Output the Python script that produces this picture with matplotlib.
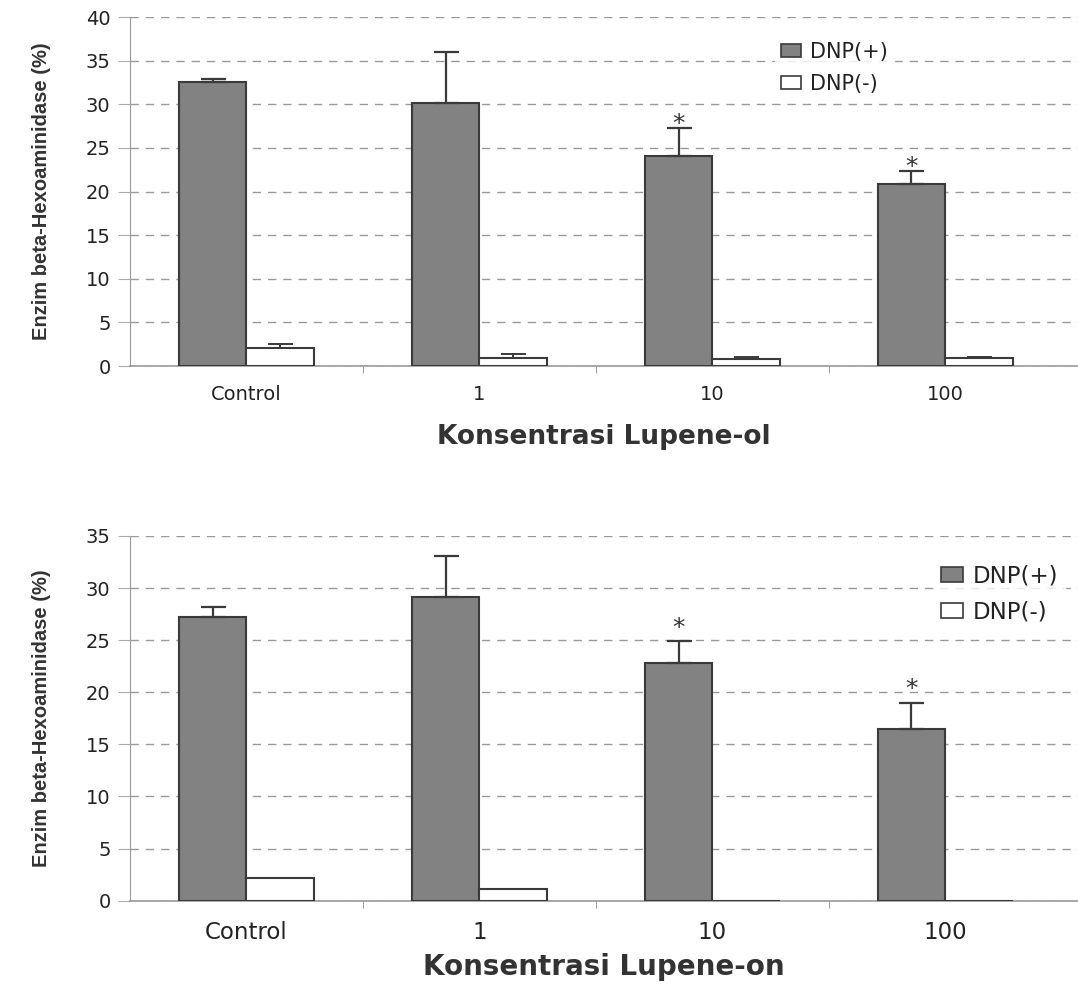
import numpy as np
import matplotlib
matplotlib.use('Agg')
import matplotlib.pyplot as plt
from matplotlib.patches import Patch

plt.rcParams['font.family'] = ['DejaVu Sans']

categories = ['Control', '1', '10', '100']

# Lupene-ol
ol_pos = [32.6, 30.1, 24.1, 20.85]
ol_pos_err = [0.3, 5.9, 3.2, 1.45]
ol_neg = [2.1, 0.88, 0.8, 0.88]
ol_neg_err = [0.4, 0.45, 0.2, 0.2]
ol_star = [False, False, True, True]

# Lupene-on
on_pos = [27.2, 29.1, 22.8, 16.5]
on_pos_err = [1.0, 4.0, 2.1, 2.5]
on_neg = [2.2, 1.1, 0.0, 0.0]
on_neg_err = [0.0, 0.0, 0.0, 0.0]
on_star = [False, False, True, True]

fig = plt.figure(figsize=(10.78, 9.84), dpi=100)

GREY = '#828282'
EDGE = '#3a3a3a'
TXT = '#222222'


def panel(ax, pos, pos_err, neg, neg_err, star, ymax, xlabel, opts):
    x = np.arange(len(categories))
    w = 0.29
    ax.bar(x - w/2, pos, w, color=GREY, edgecolor=EDGE, linewidth=1.5, zorder=3)
    ax.bar(x + w/2, neg, w, color='white', edgecolor=EDGE, linewidth=1.5, zorder=3)
    ax.errorbar(x - w/2, pos, yerr=[np.zeros(len(pos)), pos_err], fmt='none',
                ecolor=EDGE, elinewidth=1.6, capsize=9, capthick=1.6, zorder=4)
    for i in range(len(neg)):
        if neg_err[i] > 0:
            ax.errorbar(x[i] + w/2, neg[i], yerr=[[0], [neg_err[i]]], fmt='none',
                        ecolor=EDGE, elinewidth=1.4, capsize=9, capthick=1.4, zorder=4)
    for i in range(len(pos)):
        if star[i]:
            ax.annotate('*', (x[i] - w/2, pos[i] + pos_err[i]),
                        xytext=(0, opts['star_off']), textcoords='offset points',
                        ha='center', va='baseline', fontsize=18, color='#333333')

    ax.set_xlim(-0.5, 3.57)
    ax.set_ylim(0, ymax)
    ax.set_yticks(np.arange(0, ymax + 1, 5))
    ax.set_xticks(x)
    ax.set_xticklabels(categories, fontsize=opts['xtick'], color=TXT)
    ax.set_xticks([0.5, 1.5, 2.5], minor=True)
    ax.tick_params(axis='x', which='major', length=0, pad=opts['xpad'])
    ax.tick_params(axis='x', which='minor', length=5, color='#888888', direction='out')
    ax.tick_params(axis='y', length=9, color='#aaaaaa', labelsize=14,
                   labelcolor=TXT, pad=5)
    ax.yaxis.grid(True, linestyle=(0, (6, 5)), color='#999999', linewidth=1, zorder=0)
    ax.set_axisbelow(True)
    for s in ['top', 'right']:
        ax.spines[s].set_visible(False)
    ax.spines['left'].set_color('#999999')
    ax.spines['bottom'].set_color('#999999')
    ax.spines['bottom'].set_linewidth(1.2)
    ax.set_ylabel('Enzim beta-Hexoaminidase (%)', fontsize=14.5, color='#333333',
                  fontweight='bold', family=['Liberation Sans', 'DejaVu Sans'])
    ax.yaxis.set_label_coords(-0.083, 0.5)
    ax.set_xlabel(xlabel, fontsize=opts['xlab'], fontweight='bold',
                  labelpad=opts['xlabpad'], color='#333333')
    handles = [Patch(facecolor=GREY, edgecolor=EDGE, linewidth=1.2, label='DNP(+)'),
               Patch(facecolor='white', edgecolor=EDGE, linewidth=1.2, label='DNP(-)')]
    leg = ax.legend(handles=handles, loc='upper left', bbox_to_anchor=opts['leg'],
                    frameon=True, fontsize=opts['legfs'], handlelength=0.95,
                    handleheight=0.6, handletextpad=0.45, labelspacing=0.55,
                    borderpad=0.3, borderaxespad=0)
    for t in leg.get_texts():
        t.set_color(TXT)
    leg.get_frame().set_facecolor('white')
    leg.get_frame().set_edgecolor('white')


ax1 = fig.add_axes([0.1206, 0.628, 0.8794, 0.3547])
panel(ax1, ol_pos, ol_pos_err, ol_neg, ol_neg_err, ol_star, 40,
      'Konsentrasi Lupene-ol',
      dict(star_off=-2, xtick=14, xpad=14, xlab=19, xlabpad=14,
           leg=(0.68, 0.946), legfs=15))

ax2 = fig.add_axes([0.1206, 0.0847, 0.8794, 0.3706])
panel(ax2, on_pos, on_pos_err, on_neg, on_neg_err, on_star, 35,
      'Konsentrasi Lupene-on',
      dict(star_off=4.5, xtick=16.5, xpad=15, xlab=20, xlabpad=6,
           leg=(0.848, 0.94), legfs=16.5))

fig.savefig('out.png', dpi=100)
